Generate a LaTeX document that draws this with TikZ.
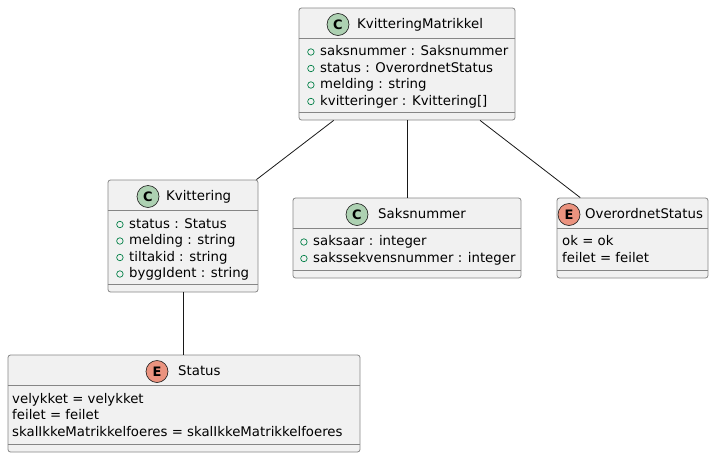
\documentclass[tikz,border=0pt]{standalone}
\usepackage{fontspec}
\setmainfont{DejaVu Sans}
\usepackage{tikz}
\definecolor{boxfill}{HTML}{F1F1F1}
\definecolor{boxline}{HTML}{868686}
\definecolor{linkline}{HTML}{181818}
\definecolor{classicon}{HTML}{ADD1B2}
\definecolor{enumicon}{HTML}{EB937F}
\definecolor{pubgreen}{HTML}{038048}
\newcommand{\umlfont}{\fontsize{13.3}{16}\selectfont}

\begin{document}
\begin{tikzpicture}[x=1pt, y=-1pt,
        classbox/.style={draw=boxline, fill=boxfill, line width=0.8pt, rounded corners=2.5pt, inner sep=0pt},
        divider/.style={draw=boxline, line width=0.8pt},
        icon/.style={circle, draw=linkline, line width=0.6pt, minimum size=22pt, inner sep=0pt, font=\fontsize{13}{13}\selectfont\bfseries},
        title/.style={anchor=west, inner sep=0pt, text height=10pt, text depth=3pt, font=\umlfont},
        attr/.style={title},
        vis/.style={circle, draw=pubgreen, line width=0.7pt, minimum size=6.5pt, inner sep=0pt},
        pub/.style={attr, label={[vis, xshift=-5.5pt]left:{}}},
        assoc/.style={draw=linkline, line width=0.8pt}]
        \useasboundingbox (0,0) rectangle (714,458);

        % KvitteringMatrikkel
        \node[classbox, minimum width=216pt, minimum height=112pt] (km) at (407,64) {};
        \node[icon, fill=classicon] (kmicon) at (338,24.5) {C};
        \node[title] (kmtitle) at (357,24.5) {KvitteringMatrikkel};
        \draw[divider] ([yshift=-31pt]km.north west) -- ([yshift=-31pt]km.north east);
        \node[pub] (km1) at (320,52) {saksnummer : Saksnummer};
        \node[pub] (km2) at (320,68.5) {status : OverordnetStatus};
        \node[pub] (km3) at (320,85) {melding : string};
        \node[pub] (km4) at (320,101.5) {kvitteringer : Kvittering[]};
        \draw[divider] ([yshift=8pt]km.south west) -- ([yshift=8pt]km.south east);

        % Kvittering
        \node[classbox, minimum width=150pt, minimum height=112pt] (kv) at (183,236) {};
        \node[icon, fill=classicon] (kvicon) at (148,196.5) {C};
        \node[title] (kvtitle) at (166,196.5) {Kvittering};
        \draw[divider] ([yshift=-31pt]kv.north west) -- ([yshift=-31pt]kv.north east);
        \node[pub] (kv1) at (129,224.5) {status : Status};
        \node[pub] (kv2) at (129,241) {melding : string};
        \node[pub] (kv3) at (129,257.5) {tiltakid : string};
        \node[pub] (kv4) at (129,274) {byggIdent : string};
        \draw[divider] ([yshift=8pt]kv.south west) -- ([yshift=8pt]kv.south east);

        % Saksnummer
        \node[classbox, minimum width=228pt, minimum height=80pt] (sk) at (407,238) {};
        \node[icon, fill=classicon] (skicon) at (357,214.5) {C};
        \node[title] (sktitle) at (378,214.5) {Saksnummer};
        \draw[divider] ([yshift=-31pt]sk.north west) -- ([yshift=-31pt]sk.north east);
        \node[pub] (sk1) at (313,242) {saksaar : integer};
        \node[pub] (sk2) at (313,258.5) {sakssekvensnummer : integer};
        \draw[divider] ([yshift=8pt]sk.south west) -- ([yshift=8pt]sk.south east);

        % OverordnetStatus
        \node[classbox, minimum width=151pt, minimum height=80pt] (ov) at (632.5,238) {};
        \node[icon, fill=enumicon] (ovicon) at (569,214.5) {E};
        \node[title] (ovtitle) at (585,214.5) {OverordnetStatus};
        \draw[divider] ([yshift=-31pt]ov.north west) -- ([yshift=-31pt]ov.north east);
        \node[attr] (ov1) at (562,242) {ok = ok};
        \node[attr] (ov2) at (562,258.5) {feilet = feilet};
        \draw[divider] ([yshift=8pt]ov.south west) -- ([yshift=8pt]ov.south east);

        % Status
        \node[classbox, minimum width=352pt, minimum height=97pt] (st) at (184,403.5) {};
        \node[icon, fill=enumicon] (sticon) at (157,371.5) {E};
        \node[title] (sttitle) at (178,371.5) {Status};
        \draw[divider] ([yshift=-31pt]st.north west) -- ([yshift=-31pt]st.north east);
        \node[attr] (st1) at (12,399.5) {velykket = velykket};
        \node[attr] (st2) at (12,416) {feilet = feilet};
        \node[attr] (st3) at (12,432.5) {skalIkkeMatrikkelfoeres = skalIkkeMatrikkelfoeres};
        \draw[divider] ([yshift=8pt]st.south west) -- ([yshift=8pt]st.south east);

        \draw[assoc] (km) to (kv);
        \draw[assoc] (km) to (sk);
        \draw[assoc] (km) to (ov);
        \draw[assoc] (kv.south) to (kv.south |- st.north);
      \end{tikzpicture}
\end{document}
